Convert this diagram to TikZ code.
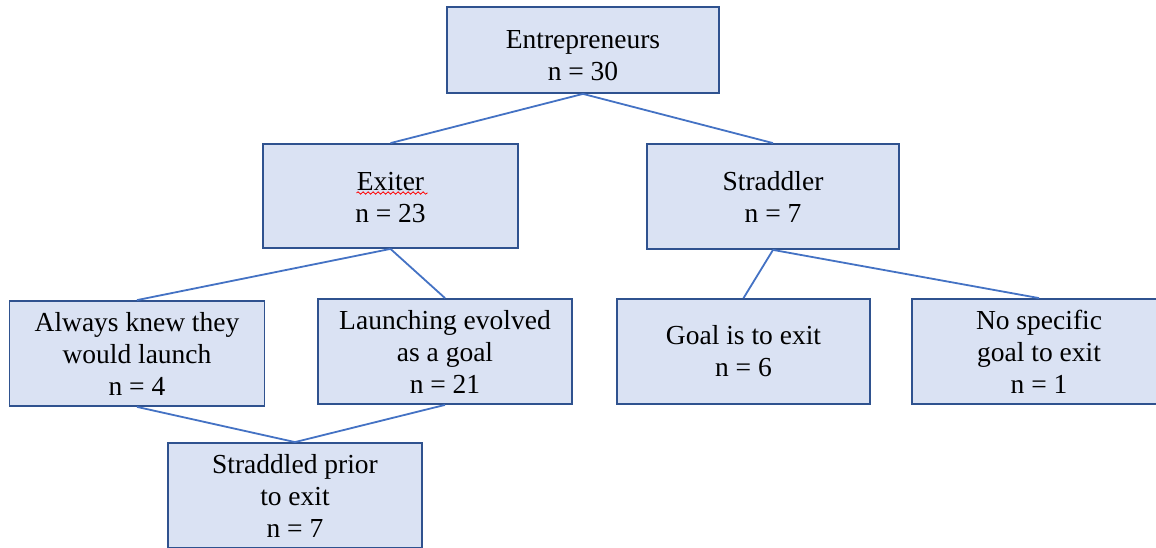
\documentclass[tikz,border=0pt]{standalone}
\usepackage{fontspec}
\setmainfont{Liberation Serif}
\usetikzlibrary{decorations.pathmorphing}
\definecolor{boxfill}{HTML}{DAE2F3}
\definecolor{boxline}{HTML}{2F528F}
\definecolor{conn}{HTML}{4472C4}
\begin{document}
\begin{tikzpicture}[x=1pt,y=-1pt,
  orgbox/.style={draw=boxline, fill=boxfill, line width=1.8pt, align=center,
    inner sep=0pt, minimum width=254pt, minimum height=105pt,
    font=\fontsize{27.5}{32}\selectfont},
  orgtext/.style={align=center, inner sep=0pt, font=\fontsize{27.5}{32}\selectfont},
  link/.style={draw=conn, line width=1.8pt}]
\path[use as bounding box, clip] (0,0) rectangle (1156,548);
\fill[white] (0,0) rectangle (1156,548);
\node[orgbox, minimum width=272pt, minimum height=86pt] (ent) at (583,50) {};
\node[orgtext] (entT) at ([yshift=-6pt]ent.center) {Entrepreneurs\\n = 30};
\node[orgbox, minimum width=255pt, minimum height=104pt] (ex) at (390.5,196) {};
\node[orgtext] (exT) at ([yshift=-2pt]ex.center) {Exiter\\n = 23};
\node[orgbox, minimum width=252pt] (st) at (773,196.5) {Straddler\\n = 7};
\node[orgbox, minimum width=255pt] (ak) at (137,353.5) {Always knew they\\would launch\\n = 4};
\node[orgbox] (le) at (445,351.5) {Launching evolved\\as a goal\\n = 21};
\node[orgbox, minimum width=253pt] (ge) at (743.5,351.5) {Goal is to exit\\n = 6};
\node[orgbox] (ns) at (1039,351.5) {No specific\\goal to exit\\n = 1};
\node[orgbox] (sp) at (295,495.5) {Straddled prior\\to exit\\n = 7};
\draw[link] (ent.south) -- (ex.north);
\draw[link] (ent.south) -- (st.north);
\draw[link] (ex.south) -- (ak.north);
\draw[link] (ex.south) -- (le.north);
\draw[link] (st.south) -- (ge.north);
\draw[link] (st.south) -- (ns.north);
\draw[link] (ak.south) -- (sp.north);
\draw[link] (le.south) -- (sp.north);
\coordinate (ul1) at ([xshift=-34pt,yshift=3pt]ex.center);
\coordinate (ul2) at ([xshift=37pt,yshift=3pt]ex.center);
\draw[red, line width=0.8pt, decorate, decoration={snake, segment length=5pt, amplitude=1.2pt}] (ul1) -- (ul2);
\end{tikzpicture}
\end{document}
